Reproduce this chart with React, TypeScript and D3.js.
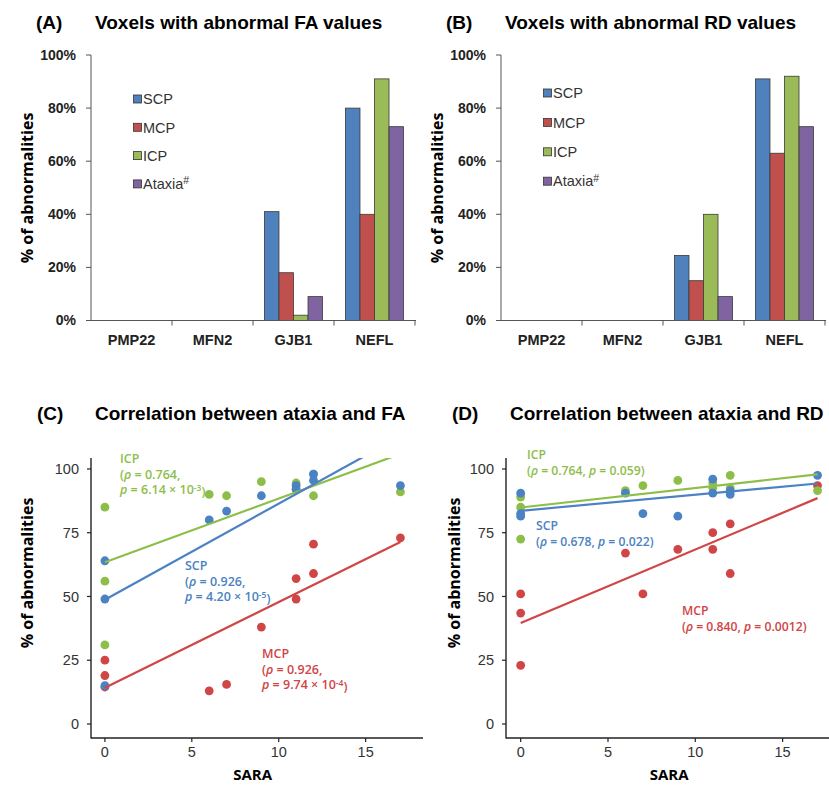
import * as d3 from "d3";

// ---- data ----
const genes = ["PMP22", "MFN2", "GJB1", "NEFL"];
const series = ["SCP", "MCP", "ICP", "Ataxia"];
const barColors = ["#4F81BD", "#C0504D", "#9BBB59", "#8064A2"];

// % of abnormal voxels, per gene, order follows `series`
const faSCP = [0, 0, 41, 80];
const faMCP = [0, 0, 18, 40];
const faICP = [0, 0, 2, 91];
const faAtaxia = [0, 0, 9, 73];

const rdSCP = [0, 0, 24.5, 91];
const rdMCP = [0, 0, 15, 63];
const rdICP = [0, 0, 40, 92];
const rdAtaxia = [0, 0, 9, 73];

const pctTicks = [0, 0.2, 0.4, 0.6, 0.8, 1];

// scatter: SARA score of each subject
const sara = [0, 0, 0, 6, 7, 9, 11, 11, 12, 12, 17];

const cSCP = [64, 49, 15, 80, 83.5, 89.5, 93.5, 92, 98, 95.5, 93.5];
const cMCP = [25, 19, 14.5, 13, 15.5, 38, 57, 49, 70.5, 59, 73];
const cICP = [85, 56, 31, 90, 89.5, 95, 94.5, 92, 98, 89.5, 91];

const dSCP = [90.5, 82.5, 81.5, 90.5, 82.5, 81.5, 96, 90.5, 91.5, 90, 97.5];
const dMCP = [51, 43.5, 23, 67, 51, 68.5, 75, 68.5, 78.5, 59, 93.5];
const dICP = [89, 85, 72.5, 91.5, 93.5, 95.5, 94.5, 92.5, 97.5, 92.5, 91.5];

// fitted lines [intercept, slope]
const cFit = { SCP: [48.7, 3.77], MCP: [14.2, 3.36], ICP: [63.4, 2.5] };
const dFit = { SCP: [83.6, 0.63], MCP: [39.6, 2.88], ICP: [84.9, 0.765] };

const valTicks = [0, 25, 50, 75, 100];
const saraTicks = [0, 5, 10, 15];

const scatterColors: Record<string, string> = {
  SCP: "#4A82C3",
  MCP: "#D04545",
  ICP: "#8DBE4A",
};

const labelFont = "'Open Sans', 'DejaVu Sans', sans-serif";
const arial = "'Liberation Sans', Arial, sans-serif";

function BarPanel({ ox, tag, title, values, legendY, legendStep }: any) {
  const x0 = d3.scaleBand().domain(genes).range([ox + 91, ox + 415]);
  const x1 = d3
    .scaleBand()
    .domain(series)
    .range([0, x0.bandwidth()])
    .paddingOuter(0.79);
  const y = d3.scaleLinear().domain([0, 1]).range([320.5, 55]);
  const axisCol = "#555";
  return (
    <g>
      <text x={ox + 36} y={29} fontFamily={arial} fontWeight="bold" fontSize={19}>
        {tag}
      </text>
      <text x={ox + 95} y={29} fontFamily={arial} fontWeight="bold" fontSize={19}>
        {title}
      </text>
      <text
        transform={`translate(${ox + 33},188) rotate(-90)`}
        textAnchor="middle"
        fontFamily={labelFont}
        fontWeight="bold"
        fontSize={16}
      >
        % of abnormalities
      </text>
      {genes.map((g, gi) => (
        <g key={g}>
          {series.map((s, si) => {
            const v = values[si][gi] / 100;
            if (v <= 0) return null;
            return (
              <rect
                key={s}
                x={(x0(g) as number) + (x1(s) as number)}
                y={y(v)}
                width={x1.bandwidth()}
                height={y(0) - y(v)}
                fill={barColors[si]}
                stroke="#3a3a3a"
                strokeWidth={0.8}
              />
            );
          })}
          <text
            x={(x0(g) as number) + x0.bandwidth() / 2}
            y={345}
            textAnchor="middle"
            fontFamily={arial}
            fontWeight="bold"
            fontSize={14.5}
            fill="#222"
          >
            {g}
          </text>
        </g>
      ))}
      <line x1={ox + 91} x2={ox + 91} y1={55} y2={y(0)} stroke={axisCol} strokeWidth={1} />
      <line x1={ox + 91} x2={ox + 416} y1={y(0)} y2={y(0)} stroke={axisCol} strokeWidth={1} />
      {pctTicks.map((t) => (
        <g key={t}>
          <line x1={ox + 86} x2={ox + 91} y1={y(t)} y2={y(t)} stroke={axisCol} />
          <text
            x={ox + 76}
            y={y(t)}
            dy="0.35em"
            textAnchor="end"
            fontFamily={arial}
            fontWeight="bold"
            fontSize={14}
            fill="#222"
          >
            {d3.format(".0%")(t)}
          </text>
        </g>
      ))}
      {genes.map((g) => (
        <line
          key={g}
          x1={(x0(g) as number) + x0.bandwidth()}
          x2={(x0(g) as number) + x0.bandwidth()}
          y1={y(0)}
          y2={y(0) + 5}
          stroke={axisCol}
        />
      ))}
      {series.map((s, i) => (
        <g key={s} transform={`translate(${ox + 133},${legendY + i * legendStep})`}>
          <rect x={0.5} y={-4} width={8} height={8} fill={barColors[i]} stroke="#333" strokeWidth={0.8} />
          <text x={10} y={0} dy="0.36em" fontFamily={arial} fontSize={14.5} fill="#333">
            {s}
            {s === "Ataxia" ? (
              <tspan dy="-0.45em" fontSize={10.5}>
                #
              </tspan>
            ) : null}
          </text>
        </g>
      ))}
    </g>
  );
}

function Annot({ x, y, color, lines, size }: any) {
  return (
    <text fontFamily={labelFont} fontWeight="600" fontSize={size} fill={color}>
      {lines.map((l: any, i: number) => (
        <tspan key={i} x={x} y={y + i * 15.5}>
          {l}
        </tspan>
      ))}
    </text>
  );
}

function ScatterPanel({ id, ox, tag, title, data, fits, xDomain, xRange, annots, annotSize, ylabOffset }: any) {
  const x = d3.scaleLinear().domain(xDomain).range(xRange);
  const y = d3.scaleLinear().domain([-5.5, 104.3]).range([738, 458]);
  const axisLeft = xRange[0];
  const order = ["MCP", "ICP", "SCP"];
  return (
    <g>
      <defs>
        <clipPath id={id}>
          <rect x={axisLeft} y={458} width={xRange[1] - axisLeft} height={280} />
        </clipPath>
      </defs>
      <text x={ox + 37} y={420} fontFamily={arial} fontWeight="bold" fontSize={19}>
        {tag}
      </text>
      <text x={ox + 95} y={420} fontFamily={arial} fontWeight="bold" fontSize={19}>
        {title}
      </text>
      <g clipPath={`url(#${id})`}>
        {order.map((k) => (
          <g key={k}>
            {data[k].map((v: number, i: number) => (
              <circle key={i} cx={x(sara[i])} cy={y(v)} r={4.4} fill={scatterColors[k]} />
            ))}
          </g>
        ))}
        {order.map((k) => (
          <line
            key={k}
            x1={x(0)}
            x2={x(17)}
            y1={y(fits[k][0])}
            y2={y(fits[k][0] + fits[k][1] * 17)}
            stroke={scatterColors[k]}
            strokeWidth={2.2}
          />
        ))}
      </g>
      {annots.map((a: any) => (
        <Annot key={a.k} x={a.x} y={a.y} size={annotSize} color={scatterColors[a.k]} lines={a.lines} />
      ))}
      <line x1={axisLeft} x2={axisLeft} y1={458} y2={738.5} stroke="#222" strokeWidth={1.4} />
      <line x1={axisLeft} x2={xRange[1]} y1={738} y2={738} stroke="#222" strokeWidth={1.4} />
      {valTicks.map((t) => (
        <g key={t}>
          <line x1={axisLeft - 4} x2={axisLeft} y1={y(t)} y2={y(t)} stroke="#222" strokeWidth={1.2} />
          <text
            x={axisLeft - 12}
            y={y(t)}
            dy="0.36em"
            textAnchor="end"
            fontFamily={arial}
            fontSize={14.5}
            fill="#333"
          >
            {t}
          </text>
        </g>
      ))}
      {saraTicks.map((t) => (
        <g key={t}>
          <line x1={x(t)} x2={x(t)} y1={738} y2={742} stroke="#222" strokeWidth={1.2} />
          <text
            x={x(t)}
            y={757}
            textAnchor="middle"
            fontFamily={arial}
            fontSize={14.5}
            fill="#333"
          >
            {t}
          </text>
        </g>
      ))}
      <text
        x={(x(0) + x(17)) / 2}
        y={780}
        textAnchor="middle"
        fontFamily={labelFont}
        fontWeight="bold"
        fontSize={15}
      >
        SARA
      </text>
      <text
        transform={`translate(${axisLeft - ylabOffset},573) rotate(-90)`}
        textAnchor="middle"
        fontFamily={labelFont}
        fontWeight="bold"
        fontSize={16}
      >
        % of abnormalities
      </text>
    </g>
  );
}

const rho = (s: string) => (
  <>
    (<tspan fontStyle="italic">ρ</tspan>
    {s}
  </>
);
const pv = (s: any) => (
  <>
    <tspan fontStyle="italic">p</tspan>
    {s}
  </>
);
const sup = (base: string, e: string) => (
  <>
    {base}
    <tspan dy="-0.4em" fontSize={8.5}>
      {e}
    </tspan>
    <tspan dy="0.4em">)</tspan>
  </>
);

export default function App() {
  return (
    <svg width={829} height={785} style={{ position: "absolute", left: 0, top: 0 }}>
      <rect width={829} height={785} fill="#fff" />
      <BarPanel
        ox={0}
        tag="(A)"
        title="Voxels with abnormal FA values"
        values={[faSCP, faMCP, faICP, faAtaxia]}
        legendY={99}
        legendStep={28.3}
      />
      <BarPanel
        ox={410}
        tag="(B)"
        title="Voxels with abnormal RD values"
        values={[rdSCP, rdMCP, rdICP, rdAtaxia]}
        legendY={93}
        legendStep={29.4}
      />
      <ScatterPanel
        id="clipC"
        ox={0}
        tag="(C)"
        title="Correlation between ataxia and FA"
        data={{ SCP: cSCP, MCP: cMCP, ICP: cICP }}
        fits={cFit}
        xDomain={[-0.8, 18.3]}
        xRange={[91, 423]}
        annotSize={12.5}
        ylabOffset={58}
        annots={[
          { k: "ICP", x: 120, y: 463, lines: ["ICP", rho(" = 0.764,"), pv(sup(" = 6.14 × 10", "-3"))] },
          { k: "SCP", x: 185, y: 570, lines: ["SCP", rho(" = 0.926,"), pv(sup(" = 4.20 × 10", "-5"))] },
          { k: "MCP", x: 262, y: 658, lines: ["MCP", rho(" = 0.926,"), pv(sup(" = 9.74 × 10", "-4"))] },
        ]}
      />
      <ScatterPanel
        id="clipD"
        ox={415}
        tag="(D)"
        title="Correlation between ataxia and RD"
        data={{ SCP: dSCP, MCP: dMCP, ICP: dICP }}
        fits={dFit}
        xDomain={[-0.84, 18.0]}
        xRange={[506, 835]}
        annotSize={12.2}
        ylabOffset={46}
        annots={[
          { k: "ICP", x: 527, y: 459, lines: ["ICP", <>{rho(" = 0.764, ")}{pv(" = 0.059)")}</>] },
          { k: "SCP", x: 536, y: 530, lines: ["SCP", <>{rho(" = 0.678, ")}{pv(" = 0.022)")}</>] },
          { k: "MCP", x: 682, y: 615, lines: ["MCP", <>{rho(" = 0.840, ")}{pv(" = 0.0012)")}</>] },
        ]}
      />
    </svg>
  );
}
